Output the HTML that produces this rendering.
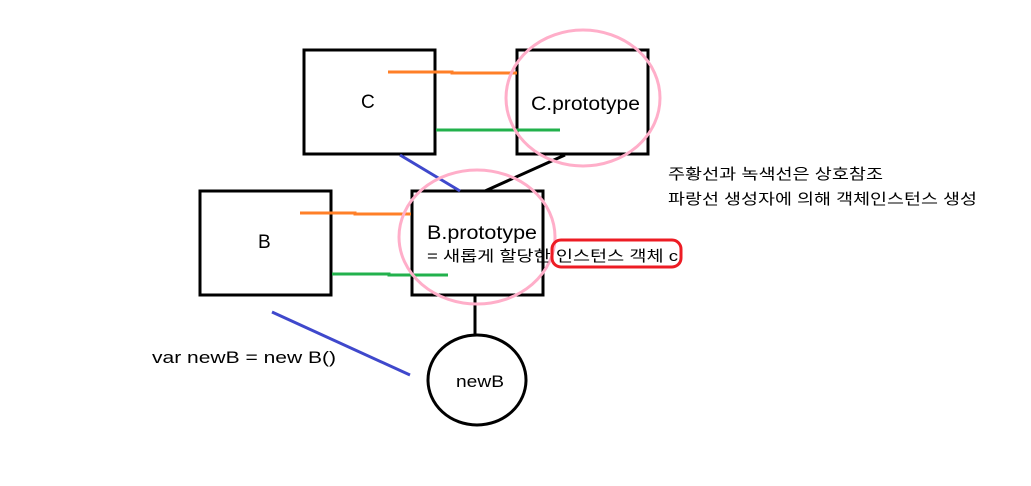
<!DOCTYPE html>
<html><head><meta charset="utf-8"><style>
html,body{margin:0;padding:0;background:#fff;}
svg text{font-family:"Liberation Sans","Noto Sans CJK KR",sans-serif;fill:#000;}
</style></head><body>
<svg width="1031" height="481" viewBox="0 0 1031 481" xmlns="http://www.w3.org/2000/svg">
<rect width="1031" height="481" fill="#fff"/>
<g fill="none" stroke="#000" stroke-width="3">
<rect x="304" y="50" width="131" height="104"/>
<rect x="517" y="50" width="131" height="104"/>
<rect x="200" y="191" width="131" height="104"/>
<rect x="412" y="191" width="131" height="104"/>
<ellipse cx="477" cy="380" rx="49" ry="45"/>
</g>
<g stroke-width="3" fill="none">
<polyline points="388,72 452,72 452,73 517,73" stroke="#ff7f27"/>
<line x1="436" y1="130" x2="560" y2="130" stroke="#22b14c"/>
<polyline points="300,213 355,213 355,214 411,214" stroke="#ff7f27"/>
<polyline points="332,274 389,274 389,275 448,275" stroke="#22b14c"/>
<line x1="400" y1="155" x2="460" y2="191" stroke="#3f48cc"/>
<line x1="272" y1="312" x2="410" y2="375" stroke="#3f48cc"/>
<line x1="565" y1="155" x2="485" y2="191" stroke="#000"/>
<line x1="475" y1="296" x2="475" y2="335" stroke="#000"/>
<ellipse cx="583" cy="98" rx="77" ry="68" stroke="#ffaec9"/>
<ellipse cx="477" cy="237" rx="78" ry="67" stroke="#ffaec9"/>
<rect x="552" y="240" width="129" height="27" rx="9" stroke="#ed1c24"/>
</g>
<text x="361" y="108" font-size="19">C</text>
<text x="531" y="110" font-size="19" textLength="109" lengthAdjust="spacingAndGlyphs">C.prototype</text>
<text x="258" y="248" font-size="19">B</text>
<text x="427" y="239" font-size="19" textLength="110" lengthAdjust="spacingAndGlyphs">B.prototype</text>
<text x="427" y="261" font-size="15" textLength="251" lengthAdjust="spacingAndGlyphs">= 새롭게 할당한 인스턴스 객체 c</text>
<text x="668" y="179" font-size="15" textLength="215" lengthAdjust="spacingAndGlyphs">주황선과 녹색선은 상호참조</text>
<text x="668" y="204" font-size="15" textLength="309" lengthAdjust="spacingAndGlyphs">파랑선 생성자에 의해 객체인스턴스 생성</text>
<text x="152" y="363" font-size="17" textLength="184" lengthAdjust="spacingAndGlyphs">var newB =  new B()</text>
<text x="456" y="387" font-size="17" textLength="48" lengthAdjust="spacingAndGlyphs">newB</text>
</svg>
</body></html>
